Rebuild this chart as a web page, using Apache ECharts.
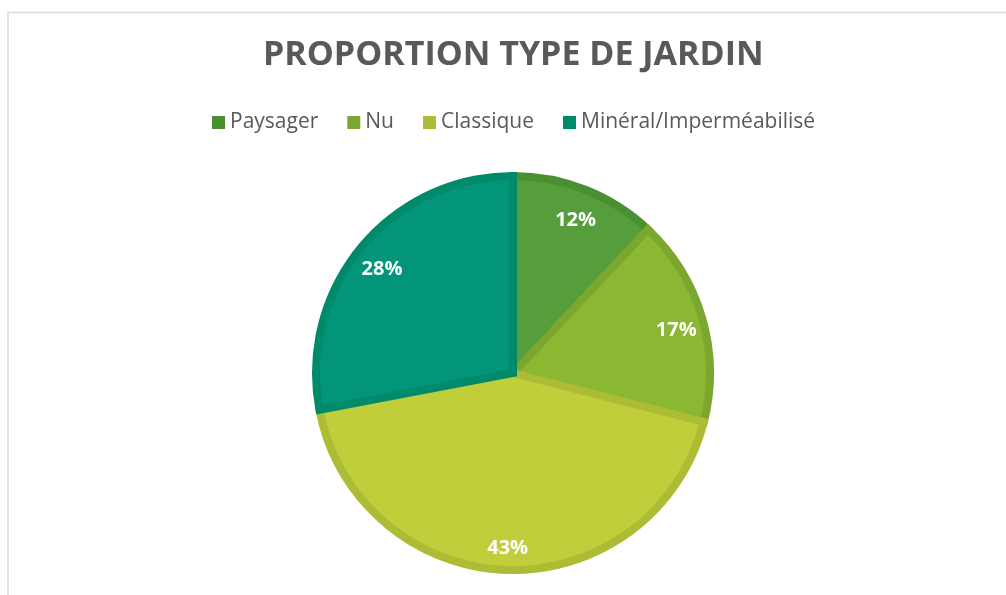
<!DOCTYPE html>
<html>
<head>
<meta charset="utf-8">
<script src="https://cdn.jsdelivr.net/npm/echarts@6/dist/echarts.min.js"></script>
<style>
  html, body { margin: 0; padding: 0; background: #fff; }
  #main { width: 1006px; height: 595px; }
</style>
</head>
<body>
<div id="main"></div>
<script>
// data
var categories = ["Paysager", "Nu", "Classique", "Minéral/Imperméabilisé"];
var shares = [12, 17, 43, 28];

// styling
var fillColors = ["#559e3b", "#8ab833", "#bfce3a", "#03957a"];
var edgeColors = ["#4a8f32", "#7ba72e", "#adbc35", "#008a6c"];

var chart = echarts.init(document.getElementById("main"));

var pieData = categories.map(function (c, i) {
    return {
        name: c,
        value: shares[i],
        itemStyle: { color: fillColors[i], borderColor: edgeColors[i] }
    };
});

var option = {
    backgroundColor: "#fff",
    animation: false,
    title: {
        text: "PROPORTION TYPE DE JARDIN",
        left: 258,
        top: 33,
        textStyle: {
            fontFamily: "Open Sans",
            fontWeight: "bold",
            fontSize: 34,
            color: "#595959"
        }
    },
    legend: {
        top: 107,
        left: 207,
        itemWidth: 13,
        itemHeight: 13,
        itemGap: 29,
        icon: "rect",
        selectedMode: false,
        itemStyle: { borderWidth: 0 },
        textStyle: { fontFamily: "Open Sans", fontSize: 21, color: "#595959" },
        data: categories.map(function (c, i) {
            return { name: c, itemStyle: { color: edgeColors[i], borderWidth: 0 } };
        })
    },
    graphic: [{
        type: "rect",
        shape: { x: 8, y: 12.5, width: 1010, height: 600 },
        style: { fill: null, stroke: "#d9d9d9", lineWidth: 1.5 },
        silent: true
    }],
    series: [
        {
            type: "pie",
            center: [513, 373],
            radius: [0, 197],
            startAngle: 90,
            clockwise: true,
            silent: true,
            itemStyle: { borderWidth: 8, borderJoin: "miter" },
            label: { show: false },
            labelLine: { show: false },
            data: pieData
        },
        {
            // label ring, pushes the percentages toward the rim
            type: "pie",
            center: [513, 378],
            radius: [133, 201],
            startAngle: 90,
            clockwise: true,
            silent: true,
            itemStyle: { color: "rgba(0,0,0,0)", borderWidth: 0 },
            label: {
                show: true,
                position: "inside",
                formatter: "{c}%",
                fontFamily: "Open Sans",
                fontWeight: "bold",
                fontSize: 20,
                color: "#fff"
            },
            labelLine: { show: false },
            data: categories.map(function (c, i) { return { name: c, value: shares[i] }; })
        }
    ]
};

chart.setOption(option);
</script>
</body>
</html>
